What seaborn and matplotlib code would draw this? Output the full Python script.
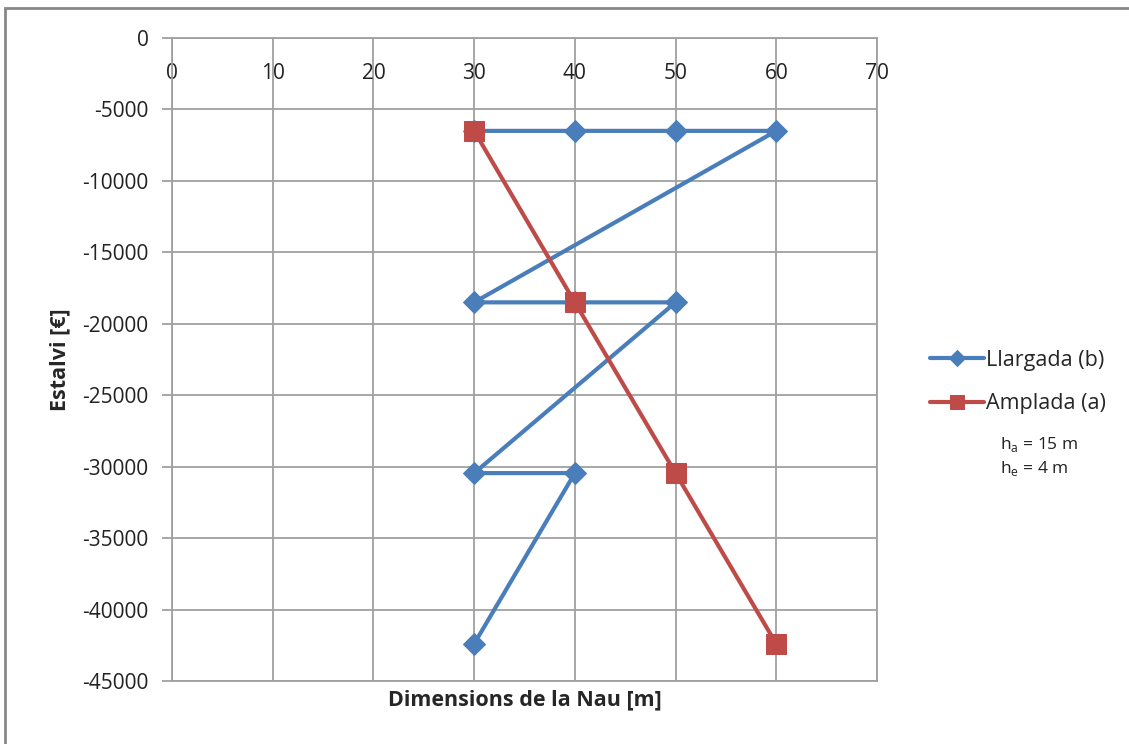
import matplotlib
matplotlib.use("Agg")
import matplotlib.pyplot as plt
import seaborn as sns
import pandas as pd
from matplotlib.patches import Rectangle

# data
llargada_x = [30, 40, 50, 60, 30, 40, 50, 30, 40, 30]
llargada_y = [-6500, -6500, -6500, -6500, -18500, -18500, -18500, -30450, -30450, -42400]
amplada_x = [30, 40, 50, 60]
amplada_y = [-6500, -18500, -30450, -42400]
x_ticks = [0, 10, 20, 30, 40, 50, 60, 70]
y_ticks = [0, -5000, -10000, -15000, -20000, -25000, -30000, -35000, -40000, -45000]

sns.set_theme(style="white")
plt.rcParams["font.family"] = ["Open Sans", "DejaVu Sans"]
plt.rcParams["axes.unicode_minus"] = False

blue = "#4a7ebb"
red = "#be4b48"
grid = "#a0a0a0"

df_b = pd.DataFrame({"x": llargada_x, "y": llargada_y})
df_a = pd.DataFrame({"x": amplada_x, "y": amplada_y})

fig = plt.figure(figsize=(11.29, 7.44), dpi=100)
ax = fig.add_axes([172 / 1129, 1 - 681 / 744, (877 - 172) / 1129, (681 - 38) / 744])

sns.lineplot(data=df_b, x="x", y="y", sort=False, estimator=None, color=blue,
             lw=3, marker="D", markersize=11, markeredgecolor=blue,
             label="Llargada (b)", ax=ax, zorder=3)
sns.lineplot(data=df_a, x="x", y="y", sort=False, estimator=None, color=red,
             lw=3, marker="s", markersize=14, markeredgecolor=red,
             label="Amplada (a)", ax=ax, zorder=4)

ax.set_xlim(0, 70)
ax.set_ylim(-45000, 0)
ax.set_xticks(x_ticks)
ax.set_yticks(y_ticks)
ax.grid(True, color=grid, lw=1.3)
for s in ax.spines.values():
    s.set_color(grid)
    s.set_linewidth(1.3)

ax.tick_params(axis="x", top=True, labeltop=True, bottom=False, labelbottom=False,
               length=0, pad=-33, labelsize=15, labelcolor="#222222")
ax.tick_params(axis="y", left=True, length=7, width=1.3, color=grid, pad=10,
               labelsize=15, labelcolor="#222222")

ax.set_xlabel("Dimensions de la Nau [m]", fontsize=15.5, fontweight="bold", labelpad=6)
ax.set_ylabel("Estalvi [€]", fontsize=15.5, fontweight="bold", labelpad=8)

leg = ax.legend(loc="center left", bbox_to_anchor=(1.048, 0.465), frameon=False,
                fontsize=15.5, handlelength=2.5, labelspacing=1.05, handletextpad=0.1,
                markerscale=0.72)

fig.text(1000 / 1129, 1 - 445 / 744, r"h$_\mathregular{a}$ = 15 m", fontsize=12.5,
         ha="left", va="center", color="#222222")
fig.text(1000 / 1129, 1 - 468 / 744, r"h$_\mathregular{e}$ = 4 m", fontsize=12.5,
         ha="left", va="center", color="#222222")

# outer chart frame
fig.patches.append(Rectangle((5 / 1129, -0.1), 1.2, 1 - 8 / 744 + 0.1,
                             transform=fig.transFigure, fill=False,
                             edgecolor="#888888", lw=2))

fig.savefig("out.png", dpi=100)
